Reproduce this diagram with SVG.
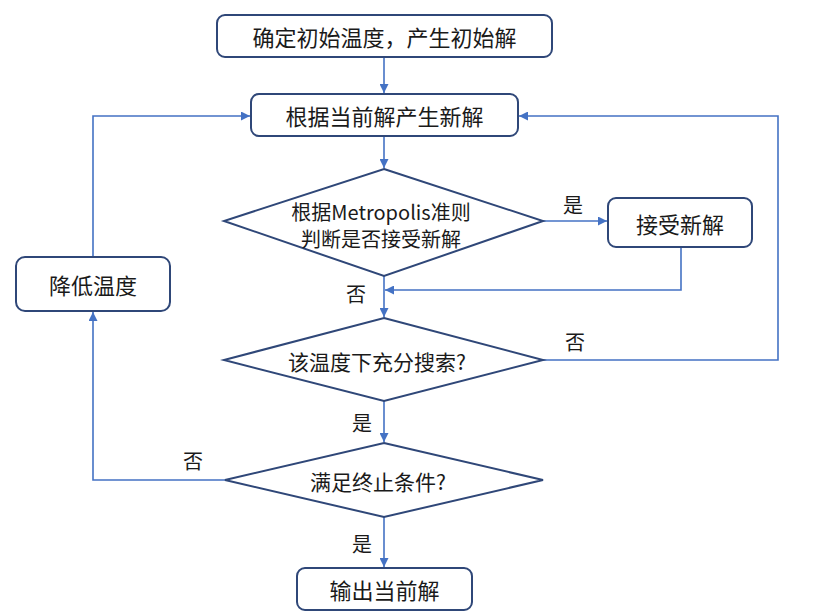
<svg xmlns="http://www.w3.org/2000/svg" width="814" height="612" viewBox="0 0 814 612">
<style>
.node{fill:#fff;stroke:#2f4778;stroke-width:2}
.t{font-family:"Noto Sans CJK SC","Noto Sans",sans-serif;fill:#1a1a1a;text-anchor:middle;dominant-baseline:central}
.t22{font-size:22px}
.t21{font-size:21px}
.t20{font-size:20px}
.c{fill:none;stroke:#4472c4;stroke-width:1.6}
.lbl{font-family:"Noto Sans CJK SC","Noto Sans",sans-serif;fill:#1a1a1a;font-size:20px;text-anchor:middle;dominant-baseline:central}
</style>
<defs>
<marker id="arr" viewBox="0 0 10 10" refX="10" refY="5" markerWidth="9" markerHeight="9" markerUnits="userSpaceOnUse" orient="auto">
<path d="M0,0 L10,5 L0,10 z" fill="#4472c4"/>
</marker>
</defs>
<rect width="814" height="612" fill="#fff"/>
<g id="connectors">
<line class="c" x1="384" y1="57" x2="384" y2="93" marker-end="url(#arr)"/>
<line class="c" x1="384" y1="136" x2="384" y2="168" marker-end="url(#arr)"/>
<line class="c" x1="543" y1="221" x2="607" y2="221" marker-end="url(#arr)"/>
<polyline class="c" points="681,247 681,290 385,290" marker-end="url(#arr)"/>
<line class="c" x1="384" y1="276" x2="384" y2="317" marker-end="url(#arr)"/>
<polyline class="c" points="543,360 778,360 778,116 519,116" marker-end="url(#arr)"/>
<line class="c" x1="384" y1="401" x2="384" y2="442" marker-end="url(#arr)"/>
<polyline class="c" points="225,480 93,480 93,312" marker-end="url(#arr)"/>
<polyline class="c" points="93,257 93,116 250,116" marker-end="url(#arr)"/>
<line class="c" x1="384" y1="517" x2="384" y2="567" marker-end="url(#arr)"/>
<text class="lbl" x="573" y="204">是</text>
<text class="lbl" x="356" y="293">否</text>
<text class="lbl" x="575" y="341">否</text>
<text class="lbl" x="362" y="422">是</text>
<text class="lbl" x="193" y="460">否</text>
<text class="lbl" x="362" y="543">是</text>
</g>
<g id="init">
<rect class="node" x="217" y="15" width="335" height="42" rx="8"/>
<text class="t t22" x="384.5" y="36">确定初始温度，产生初始解</text>
</g>
<g id="newsol">
<rect class="node" x="251" y="94" width="267" height="42" rx="8"/>
<text class="t t22" x="384.5" y="115">根据当前解产生新解</text>
</g>
<g id="metropolis">
<polygon class="node" points="384,169 543,221 384,276 224,221"/>
<text class="t t20" x="381" y="211">根据Metropolis准则</text>
<text class="t t20" x="381" y="238">判断是否接受新解</text>
</g>
<g id="accept">
<rect class="node" x="608" y="198" width="144" height="49" rx="8"/>
<text class="t t22" x="680" y="222.5">接受新解</text>
</g>
<g id="enough">
<polygon class="node" points="384,318 543,360 384,401 224,360"/>
<text class="t t21" x="377" y="361">该温度下充分搜索?</text>
</g>
<g id="cool">
<rect class="node" x="16" y="257" width="154" height="54" rx="9"/>
<text class="t t22" x="93" y="284">降低温度</text>
</g>
<g id="stop">
<polygon class="node" points="384,443 543,480 384,517 225,480"/>
<text class="t t21" x="378" y="481">满足终止条件?</text>
</g>
<g id="output">
<rect class="node" x="297" y="568" width="175" height="42" rx="8"/>
<text class="t t22" x="384.5" y="589">输出当前解</text>
</g>
</svg>
